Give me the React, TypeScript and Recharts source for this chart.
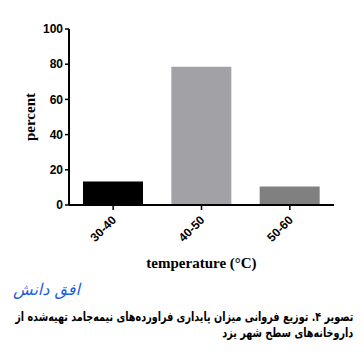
import React, { useLayoutEffect, useRef, useState } from 'react';
import { BarChart, Bar, XAxis, YAxis, Cell } from 'recharts';

const categories = ['30-40', '40-50', '50-60'];
const percentValues = [13.3, 78.5, 10.5];
const barColors = ['#000000', '#a2a2a6', '#808080'];
const yTicks = [0, 20, 40, 60, 80, 100];
const captionLines = [
    'تصویر ۴. توزیع فروانی میزان پایداری فراورده‌های نیمه‌جامد تهیه‌شده از',
    'داروخانه‌های سطح شهر یزد',
];

const data = categories.map((range, i) => ({ range, percent: percentValues[i] }));

const tickFont = { fill: '#000', fontSize: 12, fontWeight: 700, fontFamily: 'Liberation Sans, Arial, sans-serif' };

function RotatedTick({ x, y, payload }: any) {
    const ax = x + 1;
    const ay = y + 6;
    return (
        <text
            x={ax}
            y={ay}
            transform={`rotate(-45, ${ax}, ${ay})`}
            textAnchor="end"
            dominantBaseline="central"
            {...tickFont}
        >
            {payload.value}
        </text>
    );
}

// caption block squeezed horizontally so its first line is 338px wide
function Caption() {
    const ref = useRef<HTMLSpanElement>(null);
    const [scale, setScale] = useState(1);
    useLayoutEffect(() => {
        if (ref.current) {
            const w = ref.current.getBoundingClientRect().width;
            if (w > 0) setScale(338 / w);
        }
    }, []);
    return (
        <div
            dir="rtl"
            style={{
                position: 'absolute',
                right: 11,
                top: 309,
                textAlign: 'right',
                whiteSpace: 'nowrap',
                fontWeight: 700,
                fontSize: 12.5,
                lineHeight: '16px',
                fontFamily: 'DejaVu Sans, sans-serif',
                color: '#000',
                transform: `scaleX(${scale})`,
                transformOrigin: 'right top',
            }}
        >
            <span ref={ref} style={{ display: 'inline-block' }}>{captionLines[0]}</span>
            <br />
            <span style={{ display: 'inline-block' }}>{captionLines[1]}</span>
        </div>
    );
}

export default function App() {
    return (
        <div style={{ position: 'absolute', left: 0, top: 0, width: 364, height: 358, background: '#fff', overflow: 'hidden' }}>
            <BarChart
                width={364}
                height={275}
                data={data}
                margin={{ top: 29, right: 30, bottom: 0, left: 0 }}
                barSize={60}
            >
                <XAxis
                    dataKey="range"
                    height={70}
                    axisLine={{ stroke: '#000', strokeWidth: 2 }}
                    tickLine={{ stroke: '#000', strokeWidth: 1.5 }}
                    tickSize={5}
                    tick={<RotatedTick />}
                    interval={0}
                    label={{
                        value: 'temperature (°C)',
                        position: 'insideBottom',
                        offset: 7,
                        style: { fill: '#000', fontSize: 15, fontWeight: 700, fontFamily: 'Liberation Serif, Times New Roman, serif' },
                    }}
                />
                <YAxis
                    width={69}
                    domain={[0, 100]}
                    ticks={yTicks}
                    interval={0}
                    axisLine={{ stroke: '#000', strokeWidth: 2 }}
                    tickLine={{ stroke: '#000', strokeWidth: 1.5 }}
                    tickSize={4}
                    tick={tickFont}
                    label={{
                        value: 'percent',
                        angle: -90,
                        position: 'insideLeft',
                        offset: 30,
                        style: { textAnchor: 'middle', fill: '#000', fontSize: 15, fontWeight: 700, fontFamily: 'Liberation Serif, Times New Roman, serif' },
                    }}
                />
                <Bar dataKey="percent" isAnimationActive={false}>
                    {data.map((d, i) => (
                        <Cell key={d.range} fill={barColors[i]} />
                    ))}
                </Bar>
            </BarChart>
            <div
                style={{
                    position: 'absolute',
                    left: 13,
                    top: 281,
                    color: '#1f5fe0',
                    fontStyle: 'italic',
                    fontSize: 16,
                    fontFamily: 'DejaVu Sans, sans-serif',
                    direction: 'rtl',
                    lineHeight: '18px',
                }}
            >
                افق دانش
            </div>
            <Caption />
        </div>
    );
}
